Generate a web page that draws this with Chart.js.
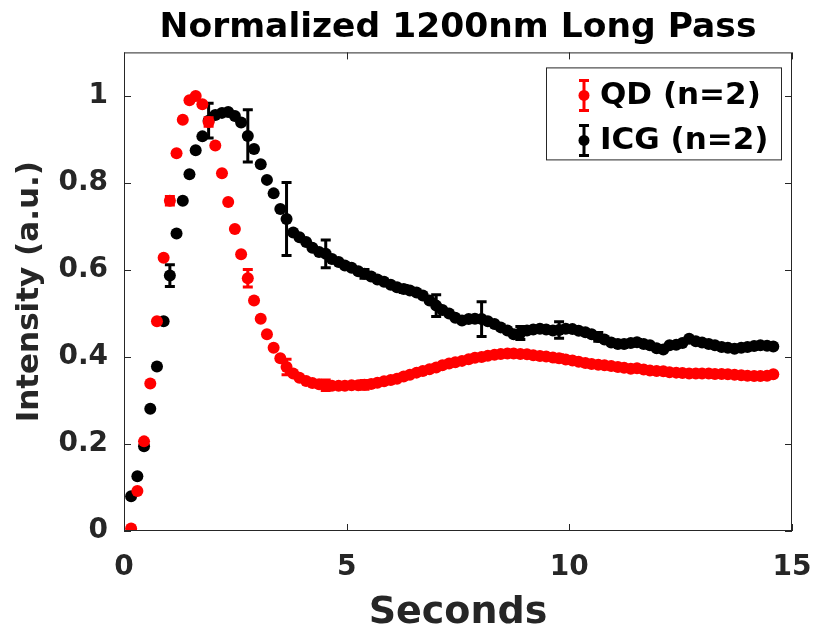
<!DOCTYPE html>
<html>
<head>
<meta charset="utf-8">
<script src="https://cdn.jsdelivr.net/npm/chart.js@4/dist/chart.umd.min.js"></script>
<style>
  html, body { margin: 0; padding: 0; background: #fff; }
  #wrap { width: 819px; height: 640px; }
</style>
</head>
<body>
<div id="wrap"><canvas id="grafico" width="819" height="640"></canvas></div>
<script>
// frame times (s)
const tempos = [
  0.16, 0.30, 0.45, 0.59, 0.74, 0.89, 1.03, 1.18, 1.32, 1.47,
  1.61, 1.76, 1.90, 2.05, 2.20, 2.34, 2.49, 2.63, 2.78, 2.92,
  3.07, 3.21, 3.36, 3.51, 3.65, 3.80, 3.94, 4.09, 4.23, 4.38,
  4.53, 4.67, 4.82, 4.96, 5.11, 5.26, 5.40, 5.55, 5.69, 5.84,
  5.99, 6.13, 6.28, 6.42, 6.57, 6.71, 6.86, 7.01, 7.15, 7.30,
  7.44, 7.59, 7.74, 7.88, 8.03, 8.17, 8.32, 8.46, 8.61, 8.75,
  8.90, 9.05, 9.19, 9.34, 9.48, 9.63, 9.77, 9.92, 10.07, 10.21,
  10.36, 10.50, 10.65, 10.79, 10.94, 11.09, 11.23, 11.38, 11.52, 11.67,
  11.81, 11.96, 12.11, 12.25, 12.40, 12.54, 12.69, 12.84, 12.98, 13.13,
  13.27, 13.42, 13.56, 13.71, 13.86, 14.00, 14.15, 14.29, 14.44, 14.58
];

const qd = [
  0.006, 0.092, 0.206, 0.339, 0.482, 0.628, 0.759, 0.868, 0.945, 0.990,
  1.000, 0.981, 0.940, 0.886, 0.822, 0.756, 0.694, 0.636, 0.581, 0.530,
  0.488, 0.452, 0.421, 0.397, 0.377, 0.362, 0.352, 0.345, 0.340, 0.337,
  0.335, 0.334, 0.334, 0.334, 0.335, 0.335, 0.336, 0.338, 0.341, 0.344,
  0.347, 0.350, 0.355, 0.359, 0.364, 0.368, 0.372, 0.376, 0.381, 0.385,
  0.388, 0.391, 0.395, 0.398, 0.400, 0.403, 0.405, 0.407, 0.408, 0.408,
  0.407, 0.406, 0.404, 0.402, 0.401, 0.399, 0.397, 0.394, 0.392, 0.389,
  0.386, 0.384, 0.382, 0.381, 0.379, 0.377, 0.375, 0.373, 0.374, 0.371,
  0.369, 0.368, 0.367, 0.365, 0.364, 0.363, 0.362, 0.362, 0.362, 0.362,
  0.361, 0.361, 0.360, 0.359, 0.358, 0.357, 0.356, 0.356, 0.357, 0.360
];

const icg = [
  0.080, 0.126, 0.195, 0.281, 0.378, 0.482, 0.587, 0.684, 0.759, 0.820,
  0.875, 0.907, 0.943, 0.956, 0.961, 0.963, 0.954, 0.939, 0.908, 0.878,
  0.843, 0.807, 0.776, 0.740, 0.717, 0.686, 0.675, 0.664, 0.651, 0.641,
  0.637, 0.625, 0.618, 0.610, 0.605, 0.597, 0.591, 0.585, 0.578, 0.573,
  0.566, 0.560, 0.556, 0.553, 0.548, 0.541, 0.530, 0.518, 0.508, 0.500,
  0.490, 0.484, 0.487, 0.488, 0.487, 0.482, 0.476, 0.468, 0.461, 0.452,
  0.455, 0.461, 0.463, 0.465, 0.463, 0.461, 0.462, 0.465, 0.464, 0.460,
  0.457, 0.452, 0.446, 0.440, 0.433, 0.430, 0.430, 0.432, 0.434, 0.430,
  0.427, 0.420, 0.417, 0.427, 0.428, 0.432, 0.442, 0.436, 0.433, 0.430,
  0.427, 0.423, 0.421, 0.419, 0.421, 0.423, 0.425, 0.427, 0.426, 0.424
];

// error bars (index into the series, half-height)
const idxErro = [6, 12, 18, 24, 30, 36, 42, 47, 54, 60, 66, 72, 78, 84, 90, 96];
const qdErro  = [0.010, 0.010, 0.020, 0.018, 0.012, 0.010, 0.005, 0.004, 0.004, 0.004, 0.008, 0.005, 0.005, 0.004, 0.004, 0.004];
const icgErro = [0.025, 0.040, 0.060, 0.084, 0.032, 0.010, 0.008, 0.025, 0.040, 0.015, 0.019, 0.010, 0.006, 0.005, 0.004, 0.004];

const xTicks = [0, 5, 10, 15];
const yTicks = [0, 0.2, 0.4, 0.6, 0.8, 1];

const series = [
  { nome: "QD (n=2)", cor: "#ff0000", valores: qd, erros: qdErro },
  { nome: "ICG (n=2)", cor: "#000000", valores: icg, erros: icgErro }
];

const fonte = "'DejaVu Sans', sans-serif";
const corEixo = "#262626";

function pontos(valores) {
  return tempos.map((t, i) => ({ x: t, y: valores[i] }));
}

function desenharBarra(ctx, x, y0, y1) {
  ctx.beginPath();
  ctx.moveTo(x, y0); ctx.lineTo(x, y1);
  ctx.moveTo(x - 5, y0); ctx.lineTo(x + 5, y0);
  ctx.moveTo(x - 5, y1); ctx.lineTo(x + 5, y1);
  ctx.stroke();
}

// error bars drawn under each dataset's markers
const barrasErro = {
  id: "barrasErro",
  beforeDatasetDraw(chart, args) {
    const s = series[args.index];
    const { ctx, scales } = chart;
    ctx.save();
    ctx.strokeStyle = s.cor;
    ctx.lineWidth = 3;
    idxErro.forEach((k, j) => {
      const x = scales.x.getPixelForValue(tempos[k]);
      const y0 = scales.y.getPixelForValue(s.valores[k] - s.erros[j]);
      const y1 = scales.y.getPixelForValue(s.valores[k] + s.erros[j]);
      desenharBarra(ctx, x, y0, y1);
    });
    ctx.restore();
  }
};

// box, inward ticks and legend
const moldura = {
  id: "moldura",
  afterDraw(chart) {
    const { ctx, chartArea: a, scales } = chart;
    ctx.save();
    ctx.strokeStyle = corEixo;
    ctx.lineWidth = 1;
    ctx.strokeRect(a.left + 0.5, a.top + 0.5, a.right - a.left - 1, a.bottom - a.top - 1);
    ctx.beginPath();
    xTicks.forEach((v) => {
      const x = Math.round(scales.x.getPixelForValue(v)) + 0.5;
      ctx.moveTo(x, a.bottom); ctx.lineTo(x, a.bottom - 7);
      ctx.moveTo(x, a.top); ctx.lineTo(x, a.top + 7);
    });
    yTicks.forEach((v) => {
      const y = Math.round(scales.y.getPixelForValue(v)) + 0.5;
      ctx.moveTo(a.left, y); ctx.lineTo(a.left + 7, y);
      ctx.moveTo(a.right, y); ctx.lineTo(a.right - 7, y);
    });
    ctx.stroke();

    // legend
    const bx = a.right - 246, by = a.top + 15, bw = 235, bh = 92;
    ctx.fillStyle = "#fff";
    ctx.fillRect(bx, by, bw, bh);
    ctx.strokeRect(bx + 0.5, by + 0.5, bw, bh);
    ctx.font = "bold 31px " + fonte;
    ctx.textBaseline = "middle";
    series.forEach((s, i) => {
      const cy = by + 28 + i * 45;
      const ix = bx + 38;
      ctx.strokeStyle = s.cor;
      ctx.fillStyle = s.cor;
      ctx.lineWidth = 3;
      desenharBarra(ctx, ix, cy - 15, cy + 15);
      ctx.beginPath();
      ctx.arc(ix, cy, 5.5, 0, Math.PI * 2);
      ctx.fill();
      ctx.fillStyle = "#000";
      ctx.fillText(s.nome, bx + 54, cy + 1);
    });
    ctx.restore();
  }
};

new Chart(document.getElementById("grafico").getContext("2d"), {
  type: "scatter",
  data: {
    datasets: series.map((s) => ({
      label: s.nome,
      data: pontos(s.valores),
      backgroundColor: s.cor,
      borderColor: s.cor,
      borderWidth: 0,
      pointRadius: 6,
      showLine: false
    }))
  },
  options: {
    responsive: false,
    animation: false,
    layout: { padding: { left: 0, right: 27, top: 0, bottom: 0 } },
    plugins: {
      legend: { display: false },
      tooltip: { enabled: false },
      title: {
        display: true,
        fullSize: false,
        text: "Normalized 1200nm Long Pass",
        color: "#000",
        font: { family: fonte, size: 34.5, weight: "bold" },
        padding: { top: 7, bottom: 4 }
      }
    },
    scales: {
      x: {
        type: "linear",
        min: 0,
        max: 15,
        afterBuildTicks: (scale) => { scale.ticks = xTicks.map((v) => ({ value: v })); },
        afterFit: (scale) => {
          scale.height = 109;
          scale.paddingLeft = 0;
          scale.paddingRight = 0;
        },
        grid: { display: false, drawTicks: false },
        border: { display: false },
        ticks: {
          padding: 20,
          color: corEixo,
          font: { family: fonte, size: 28, weight: "bold" }
        },
        title: {
          display: true,
          text: "Seconds",
          color: corEixo,
          font: { family: fonte, size: 38, weight: "bold" },
          padding: { top: 0, bottom: 4 }
        }
      },
      y: {
        type: "linear",
        min: 0,
        max: 1.1,
        afterBuildTicks: (scale) => { scale.ticks = yTicks.map((v) => ({ value: v })); },
        afterFit: (scale) => { scale.width = 124; },
        grid: { display: false, drawTicks: false },
        border: { display: false },
        ticks: {
          padding: 16,
          color: corEixo,
          font: { family: fonte, size: 28, weight: "bold" },
          callback: (v) => String(Math.round(v * 10) / 10)
        },
        title: {
          display: true,
          text: "Intensity (a.u.)",
          color: corEixo,
          font: { family: fonte, size: 31, weight: "bold" },
          padding: { top: 11, bottom: 0 }
        }
      }
    }
  },
  plugins: [barrasErro, moldura]
});
</script>
</body>
</html>
